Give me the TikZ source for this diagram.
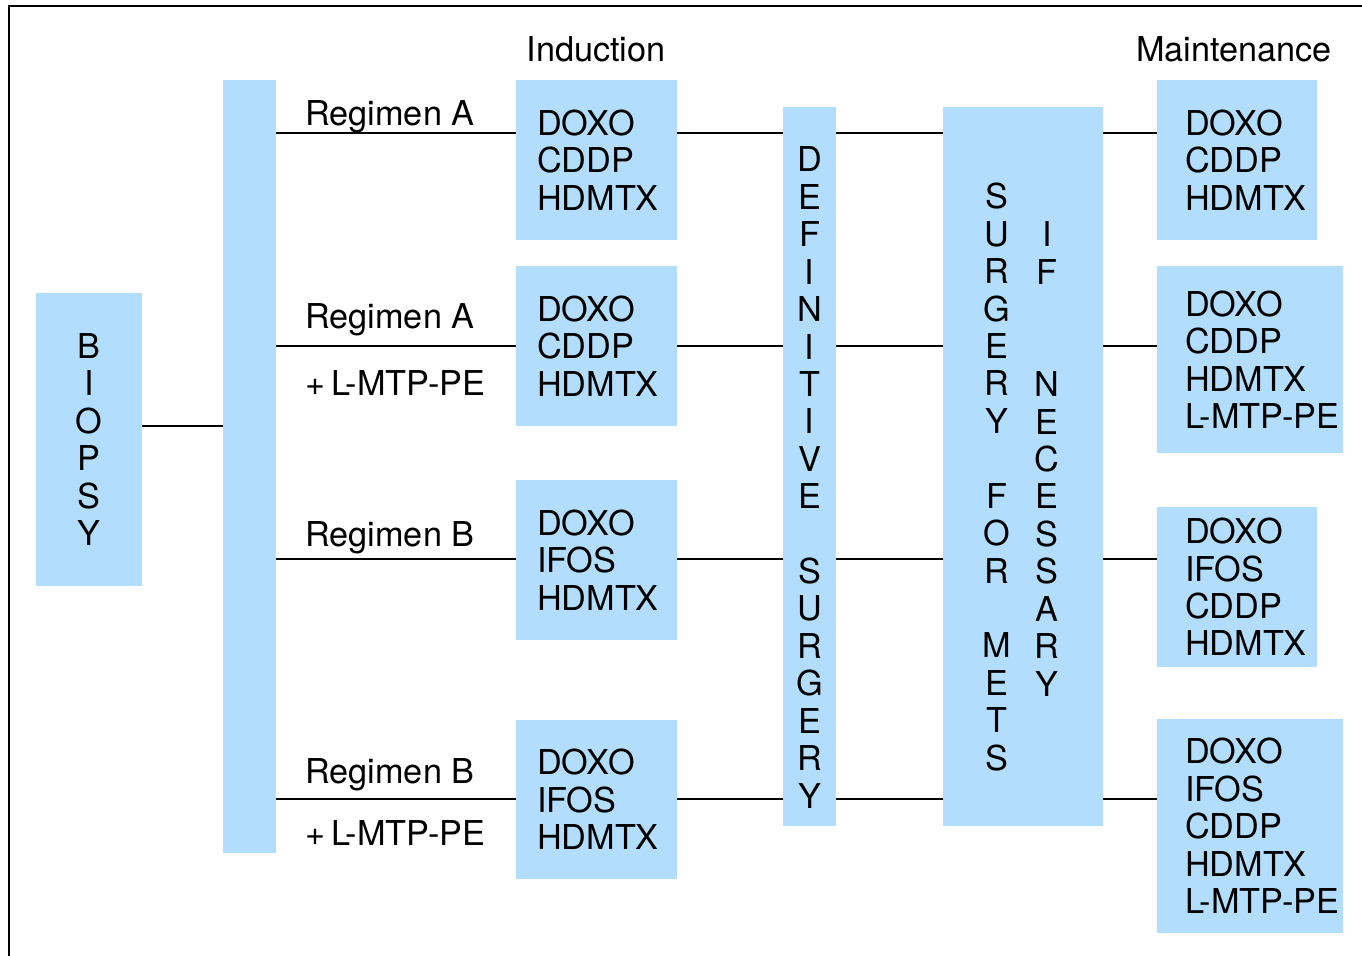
\documentclass[tikz,border=0pt]{standalone}
\usepackage{fontspec}
\setmainfont{TeX Gyre Heros}
\definecolor{celeste}{RGB}{178,221,252}
\begin{document}
\begin{tikzpicture}[x=0.02cm, y=-0.02cm,
      every node/.style={font=\fontsize{19.5}{21.3}\selectfont, inner sep=0pt},
      barra/.style={fill=celeste, align=center},
      caja/.style={fill=celeste, align=left, inner xsep=0.42cm, text width=2.38cm, minimum height=3.2cm},
      cajam/.style={fill=celeste, align=left, inner xsep=0.56cm, text width=#1},
      linea/.style={line width=1.1pt}
    ]
    \useasboundingbox (0,0) rectangle (1362,956);
    \draw[line width=1.7pt] (9,956) -- (9,6) -- (1362,6);

    \node[anchor=base] (induccion)     at (596,62)  {Induction};
    \node[anchor=base] (mantenimiento) at (1234,62) {Maintenance};

    \node[barra, minimum width=2.12cm, minimum height=5.86cm] (biopsia) at (89,439.5) {B\\I\\O\\P\\S\\Y};
    \node[barra, minimum width=1.06cm, minimum height=15.46cm] (tronco) at (249.5,466.5) {};

    \node[caja] (ind1) at (596.5,160)   {DOXO\\CDDP\\HDMTX};
    \node[caja] (ind2) at (596.5,346)   {DOXO\\CDDP\\HDMTX};
    \node[caja] (ind3) at (596.5,560)   {DOXO\\IFOS\\HDMTX};
    \node[caja] (ind4) at (596.5,799.5) {DOXO\\IFOS\\HDMTX};

    \node[barra, minimum width=1.06cm, minimum height=14.38cm] (defin) at (809.5,466.5) {};
    \node (definT) at (809.5,477.5) [align=center] {D\\E\\F\\I\\N\\I\\T\\I\\V\\E\\[21.3pt]S\\U\\R\\G\\E\\R\\Y};

    \node[barra, minimum width=3.2cm, minimum height=14.38cm] (mets) at (1023,466.5) {};
    \node (metsA) at (997,477)  [align=center] {S\\U\\R\\G\\E\\R\\Y\\[21.3pt]F\\O\\R\\[21.3pt]M\\E\\T\\S};
    \node (metsB) at (1047,459) [align=center] {I\\F\\[42.6pt]N\\E\\C\\E\\S\\S\\A\\R\\Y};

    \node[cajam=2.08cm, minimum height=3.2cm]  (mant1) at (1237,160)   {DOXO\\CDDP\\HDMTX};
    \node[cajam=2.6cm,  minimum height=3.74cm] (mant2) at (1250,359.5) {DOXO\\CDDP\\HDMTX\\\mbox{L-MTP-PE}};
    \node[cajam=2.08cm, minimum height=3.2cm]  (mant3) at (1237,587)   {DOXO\\IFOS\\CDDP\\HDMTX};
    \node[cajam=2.6cm,  minimum height=4.28cm] (mant4) at (1250,826)   {DOXO\\IFOS\\CDDP\\HDMTX\\\mbox{L-MTP-PE}};

    \node[anchor=base west] (regA)   at (305,125.5) {Regimen A};
    \node[anchor=base west] (regAL)  at (305,328.5) {Regimen A};
    \node[anchor=base west] (masA)   at (305,395.5) {+\,L-MTP-PE};
    \node[anchor=base west] (regB)   at (305,546.5) {Regimen B};
    \node[anchor=base west] (regBL)  at (305,783.5) {Regimen B};
    \node[anchor=base west] (masB)   at (305,845.5) {+\,L-MTP-PE};

    \coordinate (fb) at (0,426);
    \draw[linea] (biopsia.east |- fb) -- (tronco.west |- fb);
    \foreach \y [count=\i] in {133,346,559,799} {
      \coordinate (f\i) at (0,\y);
      \draw[linea] (tronco.east |- f\i) -- (ind\i.west |- f\i)
                   (ind\i.east |- f\i) -- (defin.west |- f\i)
                   (defin.east |- f\i) -- (mets.west |- f\i)
                   (mets.east |- f\i) -- (mant\i.west |- f\i);
    }
  \end{tikzpicture}
\end{document}
